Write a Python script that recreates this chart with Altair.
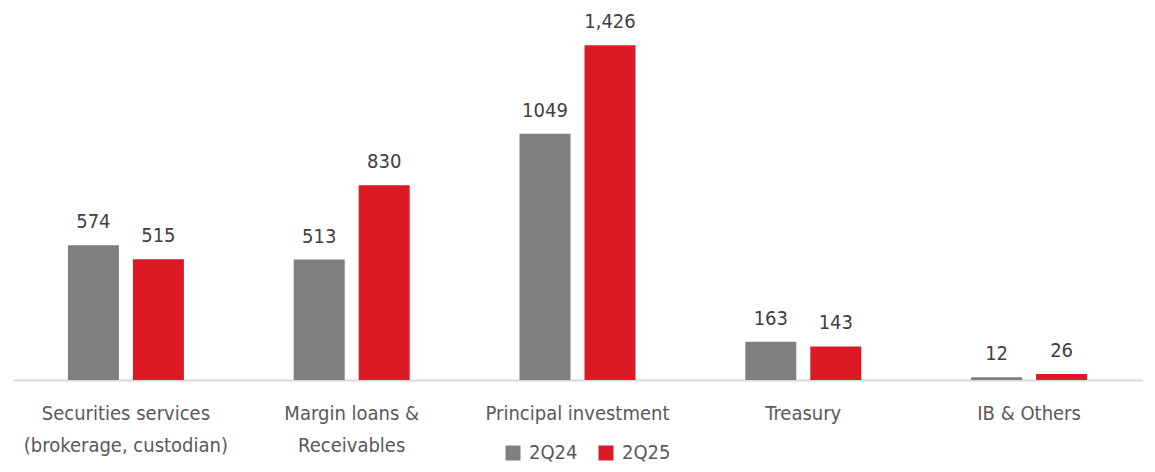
import altair as alt
import pandas as pd

categories = ["Securities services|(brokerage, custodian)", "Margin loans &|Receivables",
              "Principal investment", "Treasury", "IB & Others"]
series = ["2Q24", "2Q25"]
values_2q24 = [574, 513, 1049, 163, 12]
values_2q25 = [515, 830, 1426, 143, 26]
labels_2q24 = ["574", "513", "1049", "163", "12"]
labels_2q25 = ["515", "830", "1,426", "143", "26"]
colors = ["#7f7f7f", "#dc1a26"]

rows = []
for i, c in enumerate(categories):
    rows.append({"cat": c, "series": series[0], "value": values_2q24[i], "label": labels_2q24[i]})
    rows.append({"cat": c, "series": series[1], "value": values_2q25[i], "label": labels_2q25[i]})
df = pd.DataFrame(rows)

FONT = "DejaVu Sans Condensed, Roboto, sans-serif"
FS = 20

x = alt.X("cat:N", sort=categories, scale=alt.Scale(paddingInner=0, paddingOuter=0),
          axis=alt.Axis(title=None, labelAngle=0, ticks=False, labelPadding=23,
                        labelExpr="split(datum.label, '|')", labelLineHeight=32,
                        labelBaseline="top", labelFontSize=FS, labelColor="#595959",
                        labelFont=FONT, labelLimit=0, domainColor="#d9d9d9", domainWidth=2,
                        grid=False))
xo = alt.XOffset("series:N", sort=series,
                 scale=alt.Scale(paddingInner=0.2154, paddingOuter=0.8446))
y = alt.Y("value:Q", scale=alt.Scale(domain=[0, 1500], nice=False), axis=None)

bars = alt.Chart(df).mark_bar().encode(
    x=x, xOffset=xo, y=y,
    color=alt.Color("series:N", sort=series,
                    scale=alt.Scale(domain=series, range=colors),
                    legend=alt.Legend(title=None, orient="none", direction="horizontal",
                                      legendX=490, legendY=415, symbolType="square",
                                      symbolSize=225, symbolStrokeWidth=0,
                                      labelFontSize=FS, labelFont=FONT, labelLimit=0,
                                      labelColor="#595959", labelOffset=6,
                                      columnPadding=18, padding=0)),
)
text = alt.Chart(df).mark_text(baseline="alphabetic", dy=-17, fontSize=FS, font=FONT,
                               color="#404040").encode(
    x=x, xOffset=xo, y=y, text="label:N")

chart = (bars + text).properties(
    width=1129, height=352,
    padding={"left": 5, "top": 20, "right": 5, "bottom": 84},
    autosize=alt.AutoSizeParams(type="none"),
).configure_view(stroke=None)

chart.save("out.html", embed_options={"renderer": "svg", "actions": False})
